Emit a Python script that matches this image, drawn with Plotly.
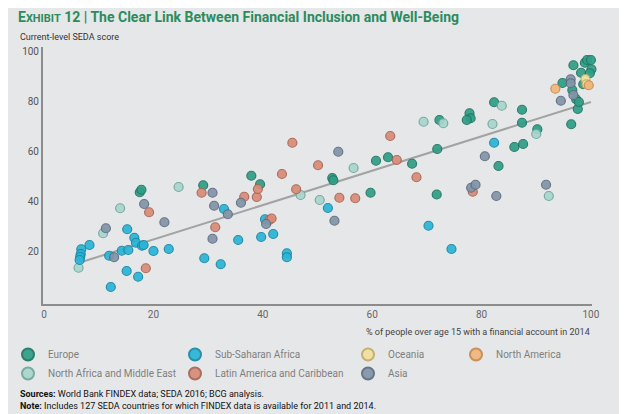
import plotly.graph_objects as go

# --- data (x = % with account, y = SEDA score) ---
europe_x = [17.5, 17.8, 29.1, 37.9, 39.5, 52.7, 52.9, 59.7, 60.7, 62.9, 67.3, 71.8, 71.9, 72.3,
            77.8, 78.0, 77.3, 82.3, 83.1, 86.0, 87.6, 87.4, 87.4, 90.2, 94.8, 96.4, 96.6, 96.8,
            97.3, 97.6, 97.8, 98.2, 98.9, 99.3, 100.0, 100.1, 99.8, 98.6]
europe_y = [43.5, 44.5, 46.3, 50.1, 46.7, 49.2, 48.3, 43.3, 56.1, 57.5, 54.9, 42.6, 60.8, 72.4,
            75.1, 73.1, 72.4, 79.5, 54.0, 61.6, 62.8, 76.5, 71.3, 68.7, 87.2, 70.7, 84.4, 94.3,
            80.7, 76.8, 79.6, 91.3, 95.3, 96.4, 96.4, 92.7, 91.1, 86.7]

ssa_x = [6.8, 6.7, 6.6, 6.5, 8.3, 11.9, 12.2, 14.2, 15.1, 15.2, 15.4, 16.5, 16.8, 17.2, 17.9,
         18.2, 20.0, 22.8, 29.3, 32.3, 32.9, 35.5, 39.7, 40.4, 41.9, 44.4, 44.4, 51.9, 70.3,
         74.5, 82.3]
ssa_y = [20.7, 18.8, 17.6, 16.4, 22.4, 18.1, 5.6, 20.1, 12.0, 28.7, 20.4, 25.3, 23.3, 9.7, 22.1,
         22.4, 20.0, 20.8, 17.1, 14.7, 36.8, 24.4, 25.6, 32.7, 26.8, 19.1, 17.5, 37.2, 30.1,
         20.8, 63.3]

oceania_x = [99.0, 99.2]
oceania_y = [88.8, 86.7]

namerica_x = [93.5, 99.6]
namerica_y = [84.9, 86.3]

name_x = [6.3, 10.8, 13.9, 24.6, 46.9, 50.4, 56.6, 69.4, 73.0, 82.0, 83.7, 90.0, 92.3]
name_y = [13.3, 27.1, 37.1, 45.6, 42.4, 40.4, 53.2, 71.7, 71.1, 70.8, 78.1, 66.8, 42.0]

latam_x = [18.6, 19.2, 28.8, 31.3, 36.6, 38.9, 39.1, 41.2, 41.6, 43.5, 45.4, 46.1, 50.1, 54.0,
           56.9, 63.3, 64.5, 68.1, 78.4]
latam_y = [13.1, 35.5, 43.3, 29.5, 41.7, 41.6, 44.8, 32.4, 33.0, 50.8, 63.3, 44.7, 54.3, 41.3,
           41.1, 66.0, 56.4, 49.5, 43.7]

asia_x = [11.3, 12.8, 18.3, 22.0, 30.8, 31.1, 30.8, 33.6, 36.0, 40.6, 53.1, 53.8, 78.1, 78.9,
          80.6, 82.7, 91.8, 94.5, 96.3, 96.3, 96.8]
asia_y = [29.1, 17.5, 38.8, 31.5, 43.3, 38.1, 24.9, 34.7, 39.3, 30.8, 32.1, 59.7, 45.3, 46.5,
          57.9, 42.0, 46.5, 80.1, 88.7, 87.1, 82.4]

trend_x = [7, 100]
trend_y = [15.7, 79.6]

x_ticks = [0, 20, 40, 60, 80, 100]
y_ticks = [20, 40, 60, 80, 100]

# name, x, y, fill, outline, legend, rank in legend
regions = [
    ("Europe", europe_x, europe_y, "#2f9e86", "#1f7564", "legend", 1),
    ("North Africa and Middle East", name_x, name_y, "#a9d5cd", "#6fa69d", "legend", 2),
    ("Sub-Saharan Africa", ssa_x, ssa_y, "#29b5d6", "#1b87a6", "legend2", 1),
    ("Latin America and Caribbean", latam_x, latam_y, "#d88b78", "#a86553", "legend2", 2),
    ("Asia", asia_x, asia_y, "#8294a8", "#5c6d80", "legend3", 2),
    ("Oceania", oceania_x, oceania_y, "#f2df9e", "#c2ad6a", "legend3", 1),
    ("North America", namerica_x, namerica_y, "#f0b679", "#c48a4e", "legend4", 1),
]

BG = "#e6e7e8"
FONT = "Liberation Sans Narrow, Roboto, Arial, sans-serif"
W, H = 627, 414
OFF = 8  # page body margin: the figure starts 8px in from the window edge

# target positions below are in window pixels
PL, PR, PT, PB = 43, 592, 47, 304

def px_x(p):
    return (p - PL) / (PR - PL)

def px_y(p):
    return (PB - p) / (PB - PT)

fig = go.Figure()

fig.add_trace(go.Scatter(
    x=trend_x, y=trend_y, mode="lines",
    line=dict(color="#a3a3a3", width=2),
    showlegend=False, hoverinfo="skip"
))

for name, xs, ys, fill, edge, lg, rank in regions:
    fig.add_trace(go.Scatter(
        x=xs, y=ys, mode="markers", name=name, legend=lg, legendrank=rank,
        cliponaxis=False,
        marker=dict(size=9, color=fill, opacity=0.92,
                    line=dict(color=edge, width=1.2))
    ))

def legend_at(marker_px, row_px):
    # legend marker sits ~19px right of the legend box, first row ~15px below its top
    return dict(
        x=(marker_px - OFF - 19) / W, y=1 - (row_px - OFF - 15) / H,
        xref="container", yref="container",
        orientation="v", xanchor="left", yanchor="top",
        bgcolor="rgba(0,0,0,0)", borderwidth=0, itemsizing="constant",
        tracegroupgap=0, itemclick=False, traceorder="normal",
        font=dict(family=FONT, size=10, color="#7f7f7f"),
    )

fig.update_layout(
    width=W, height=H,
    paper_bgcolor=BG, plot_bgcolor=BG,
    margin=dict(l=PL - OFF, r=W - (PR - OFF), t=PT - OFF, b=H - (PB - OFF), autoexpand=False),
    font=dict(family=FONT, color="#555"),
    title=dict(
        text='E<span style="font-size:11px">XHIBIT</span> 12 | The Clear Link Between Financial Inclusion and Well-Being',
        x=(18 - OFF) / W, xanchor="left", xref="container",
        y=1 - (17 - OFF) / H, yanchor="middle", yref="container",
        font=dict(family=FONT, size=14, color="#2b8c5e", weight="bold"),
    ),
    xaxis=dict(
        range=[-0.2, 100.2], tickvals=x_ticks, showgrid=False, zeroline=False,
        showline=True, linecolor="#8c8c8c", linewidth=2, ticks="",
        tickfont=dict(size=10, color="#666"), fixedrange=True,
    ),
    yaxis=dict(
        range=[-1.2, 101.6], tickvals=y_ticks, showgrid=False, zeroline=False,
        showline=True, linecolor="#8c8c8c", linewidth=2, ticks="",
        tickfont=dict(size=10, color="#555"), fixedrange=True,
    ),
    legend=legend_at(27, 355),
    legend2=legend_at(194, 355),
    legend3=legend_at(367, 355),
    legend4=legend_at(475, 355),
    showlegend=True,
)

fig.add_annotation(text="Current-level SEDA score", x=px_x(18), y=px_y(37),
                   xref="paper", yref="paper", xanchor="left", yanchor="middle",
                   showarrow=False, font=dict(size=9, color="#333"))
fig.add_annotation(text="% of people over age 15 with a financial account in 2014",
                   x=px_x(592), y=px_y(332), xref="paper", yref="paper",
                   xanchor="right", yanchor="middle", showarrow=False,
                   font=dict(size=9, color="#444"))
fig.add_annotation(text="<b>Sources:</b> World Bank FINDEX data; SEDA 2016; BCG analysis.",
                   x=px_x(18), y=px_y(394), xref="paper", yref="paper",
                   xanchor="left", yanchor="middle", showarrow=False,
                   font=dict(size=9, color="#111"))
fig.add_annotation(text="<b>Note:</b> Includes 127 SEDA countries for which FINDEX data is available for 2011 and 2014.",
                   x=px_x(18), y=px_y(406), xref="paper", yref="paper",
                   xanchor="left", yanchor="middle", showarrow=False,
                   font=dict(size=9, color="#111"))

fig.write_html("out.html")
